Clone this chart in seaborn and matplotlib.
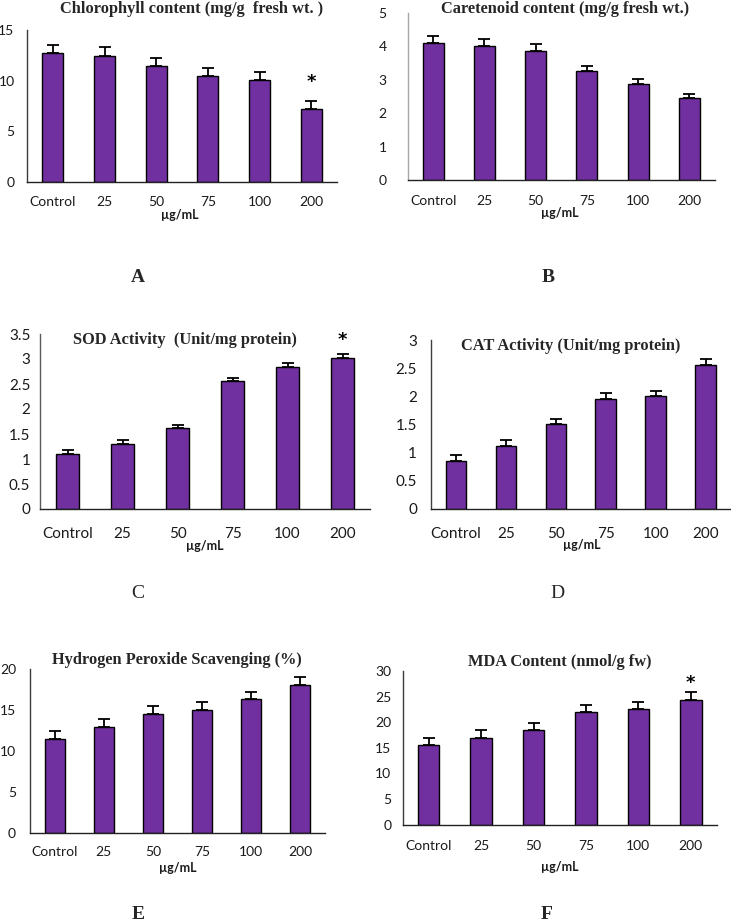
import numpy as np
import pandas as pd
import matplotlib
matplotlib.use("Agg")
import matplotlib.pyplot as plt
import seaborn as sns

# ---------------- data ----------------
categories = ["Control", "25", "50", "75", "100", "200"]

chl_vals = [12.70, 12.48, 11.45, 10.45, 10.05, 7.22]
chl_err = [0.82, 0.82, 0.82, 0.82, 0.82, 0.82]

car_vals = [4.09, 4.02, 3.86, 3.26, 2.87, 2.46]
car_err = [0.21, 0.20, 0.20, 0.16, 0.15, 0.12]

sod_vals = [1.09, 1.29, 1.62, 2.55, 2.83, 3.01]
sod_err = [0.08, 0.09, 0.05, 0.06, 0.08, 0.09]

cat_vals = [0.85, 1.12, 1.51, 1.96, 2.00, 2.55]
cat_err = [0.11, 0.10, 0.09, 0.10, 0.09, 0.11]

h2o2_vals = [11.47, 12.94, 14.49, 14.94, 16.29, 18.04]
h2o2_err = [0.98, 0.94, 0.98, 0.98, 0.93, 0.94]

mda_vals = [15.6, 17.0, 18.4, 22.0, 22.5, 24.4]
mda_err = [1.4, 1.4, 1.4, 1.4, 1.4, 1.4]

titles = ["Chlorophyll content (mg/g  fresh wt. )",
          "Caretenoid content (mg/g fresh wt.)",
          "SOD Activity  (Unit/mg protein)",
          "CAT Activity (Unit/mg protein)",
          "Hydrogen Peroxide Scavenging (%)",
          "MDA Content (nmol/g fw)"]
letters = ["A", "B", "C", "D", "E", "F"]
xlabel = "µg/mL"

# ---------------- style ----------------
sns.set_theme(style="white")
plt.rcParams["font.family"] = ["Lato", "DejaVu Sans"]

W, H = 731, 922
fig = plt.figure(figsize=(W / 100, H / 100), dpi=100)
BAR = "#7030A0"


def px_axes(l, r, t, b):
    return fig.add_axes([l / W, 1 - b / H, (r - l) / W, (b - t) / H])


def ftext(x, y, s, **kw):
    fig.text(x / W, 1 - y / H, s, ha="center", va="center", **kw)


panels = [
    dict(v=chl_vals, e=chl_err, ymax=15, step=5, box=(27, 337, 30, 182), ypad=9, ytl=0, lc="#3a3a3a", star=13, fs=10, xpad=7),
    dict(v=car_vals, e=car_err, ymax=5, step=1, box=(407.5, 715, 13, 180), ypad=15, ytl=0, lc="#a6a6a6", star=None, fs=10, xpad=8),
    dict(v=sod_vals, e=sod_err, ymax=3.5, step=0.5, box=(40, 370, 334, 509), ypad=3, ytl=4, lc="#595959", star=10, fs=11, xpad=10),
    dict(v=cat_vals, e=cat_err, ymax=3, step=0.5, box=(431, 730.5, 340, 509), ypad=6, ytl=4, lc="#404040", star=None, fs=11, xpad=10),
    dict(v=h2o2_vals, e=h2o2_err, ymax=20, step=5, box=(30, 325, 669, 833), ypad=10, ytl=0, lc="#3a3a3a", star=None, fs=10, xpad=6),
    dict(v=mda_vals, e=mda_err, ymax=30, step=5, box=(402.5, 717, 671, 824.5), ypad=8, ytl=0, lc="#3a3a3a", star=7, fs=10, xpad=8),
]

title_pos = [(192, 9), (565, 9), (185, 340), (571, 346), (177, 660), (560, 662)]
xlab_pos = [(180, 215), (560, 213), (205, 546), (582, 545), (178, 868), (560, 867)]
letter_pos = [(138, 278), (548, 278), (138, 594), (557, 594), (138, 914), (547, 914)]

for i, p in enumerate(panels):
    ax = px_axes(*p["box"])
    df = pd.DataFrame({"dose": categories, "value": p["v"]})
    sns.barplot(data=df, x="dose", y="value", ax=ax, color=BAR, saturation=1,
                edgecolor="black", linewidth=1.0, width=0.41, errorbar=None)
    x = np.arange(len(categories))
    ax.errorbar(x, p["v"], yerr=[np.zeros(len(x)), p["e"]], fmt="none",
                ecolor="black", elinewidth=1.3, capsize=4, capthick=1.3, zorder=3)
    ax.set_xlim(-0.5, len(categories) - 0.5)
    ax.set_ylim(0, p["ymax"])
    yt = np.arange(0, p["ymax"] + 1e-9, p["step"])
    ax.set_yticks(yt)
    ax.set_yticklabels([f"{t:g}" for t in yt])
    ax.set_xlabel("")
    ax.set_ylabel("")
    for s in ["top", "right"]:
        ax.spines[s].set_visible(False)
    ax.spines["left"].set_color(p["lc"])
    ax.spines["left"].set_linewidth(1.0)
    ax.spines["bottom"].set_color("#222222")
    ax.spines["bottom"].set_linewidth(1.0)
    ax.tick_params(axis="x", which="both", direction="inout", length=6, width=1.0,
                   color="#222222", pad=p["xpad"], labelsize=p["fs"], labelcolor="#1a1a1a")
    ax.set_xticks([len(categories) - 0.5], minor=True)
    ax.tick_params(axis="y", direction="out", length=p["ytl"], width=1.0,
                   color=p["lc"], pad=p["ypad"], labelsize=p["fs"], labelcolor="#1a1a1a")
    ax.set_facecolor("none")
    ax.grid(False)
    if p["star"] is not None:
        j = len(categories) - 1
        ax.annotate("*", xy=(j, p["v"][j] + p["e"][j]), xytext=(0, p["star"]),
                    textcoords="offset points", ha="center", va="center",
                    fontsize=13, fontweight="bold", color="black",
                    family=["DejaVu Sans"])

    ftext(*title_pos[i], titles[i], family=["Liberation Serif"], fontweight="bold", fontsize=11.8)
    ftext(*xlab_pos[i], xlabel, fontweight="bold", fontsize=9, color="#1a1a1a")
    ftext(*letter_pos[i], letters[i], family=["Liberation Serif"],
          fontweight=("normal" if letters[i] in ("C", "D") else "bold"), fontsize=14)

fig.savefig("out.png", dpi=100)
